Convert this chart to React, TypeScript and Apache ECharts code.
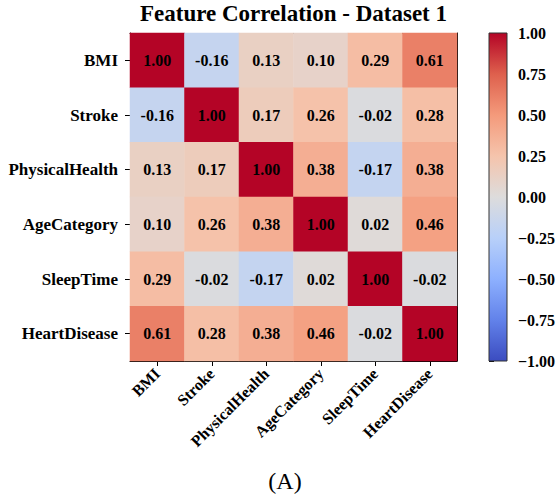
import React, { useEffect, useRef } from "react";
import * as echarts from "echarts";

const features = ["BMI", "Stroke", "PhysicalHealth", "AgeCategory", "SleepTime", "HeartDisease"];
const rowBMI = [1.0, -0.16, 0.13, 0.1, 0.29, 0.61];
const rowStroke = [-0.16, 1.0, 0.17, 0.26, -0.02, 0.28];
const rowPhysicalHealth = [0.13, 0.17, 1.0, 0.38, -0.17, 0.38];
const rowAgeCategory = [0.1, 0.26, 0.38, 1.0, 0.02, 0.46];
const rowSleepTime = [0.29, -0.02, -0.17, 0.02, 1.0, -0.02];
const rowHeartDisease = [0.61, 0.28, 0.38, 0.46, -0.02, 1.0];
const matrix = [rowBMI, rowStroke, rowPhysicalHealth, rowAgeCategory, rowSleepTime, rowHeartDisease];
const coolwarm = ["#3b4cc0", "#6282ea", "#8db0fe", "#b8d0f9", "#dddcdc", "#f5c4ac", "#f49a7b", "#de604d", "#b40426"];
const cbMin = -1;
const cbMax = 1;
const cbStep = 0.25;

const FONT = "'Liberation Serif', 'DejaVu Serif', serif";

export default function App() {
  const ref = useRef<HTMLDivElement>(null);
  useEffect(() => {
    if (!ref.current) return;
    document.body.style.margin = "0";
    const chart = echarts.init(ref.current, undefined, { renderer: "svg" });
    const data: [number, number, number][] = [];
    matrix.forEach((row, r) => row.forEach((v, c) => data.push([c, r, v])));
    const gL = 130, gT = 33, gW = 327, gH = 328;
    const cbL = 489, cbW = 18;
    const n = coolwarm.length;
    const stops = coolwarm
      .slice()
      .reverse()
      .map((c, i) => ({ offset: i / (n - 1), color: c }));
    chart.setOption({
      animation: false,
      backgroundColor: "#fff",
      title: [
        {
          text: "Feature Correlation - Dataset 1",
          left: gL + gW / 2,
          textAlign: "center",
          top: 2,
          padding: 0,
          textStyle: { fontFamily: FONT, fontWeight: "bold", fontSize: 23, color: "#000" },
        },
        {
          text: "(A)",
          left: 285,
          textAlign: "center",
          top: 469,
          padding: 0,
          textStyle: { fontFamily: FONT, fontWeight: "normal", fontSize: 24, color: "#000" },
        },
      ],
      grid: [
        { left: gL, top: gT, width: gW, height: gH, containLabel: false },
        { left: cbL, top: gT, width: cbW, height: gH, containLabel: false },
      ],
      xAxis: [
        {
          type: "category",
          data: features,
          gridIndex: 0,
          position: "bottom",
          axisLine: { show: true, lineStyle: { color: "#000", width: 1 } },
          axisTick: { show: true, alignWithLabel: true, length: 5, lineStyle: { color: "#000" } },
          axisLabel: { rotate: 45, fontFamily: FONT, fontWeight: "bold", fontSize: 16, color: "#000", margin: 10 },
          splitLine: { show: false },
        },
        {
          type: "value",
          gridIndex: 0,
          position: "top",
          axisLine: { show: true, onZero: false, lineStyle: { color: "#000", width: 1 } },
          axisTick: { show: false },
          axisLabel: { show: false },
          splitLine: { show: false },
        },
        {
          type: "value",
          gridIndex: 1,
          show: false,
          min: 0,
          max: 1,
        },
      ],
      yAxis: [
        {
          type: "category",
          data: features,
          inverse: true,
          gridIndex: 0,
          axisLine: { show: true, lineStyle: { color: "#000", width: 1 } },
          axisTick: { show: true, alignWithLabel: true, length: 5, lineStyle: { color: "#000" } },
          axisLabel: { fontFamily: FONT, fontWeight: "bold", fontSize: 17, color: "#000", margin: 12 },
          splitLine: { show: false },
        },
        {
          type: "value",
          gridIndex: 0,
          position: "right",
          axisLine: { show: true, onZero: false, lineStyle: { color: "#000", width: 1 } },
          axisTick: { show: false },
          axisLabel: { show: false },
          splitLine: { show: false },
        },
        {
          type: "value",
          gridIndex: 1,
          position: "right",
          min: cbMin,
          max: cbMax,
          interval: cbStep,
          axisLine: { show: false },
          axisTick: { show: true, length: 5, lineStyle: { color: "#000" } },
          axisLabel: {
            fontFamily: FONT,
            fontWeight: "bold",
            fontSize: 16,
            color: "#000",
            margin: 11,
            formatter: (v: number) => v.toFixed(2).replace("-", "\u2212"),
          },
          splitLine: { show: false },
        },
      ],
      visualMap: {
        type: "continuous",
        show: false,
        min: cbMin,
        max: cbMax,
        seriesIndex: 0,
        inRange: { color: coolwarm },
      },
      graphic: [
        {
          type: "rect",
          x: cbL,
          y: gT,
          z: 100,
          shape: { x: 0, y: 0, width: cbW, height: gH },
          style: {
            fill: new echarts.graphic.LinearGradient(0, 0, 0, 1, stops),
            stroke: "#333",
            lineWidth: 1,
          },
          silent: true,
        },
      ],
      series: [
        {
          type: "heatmap",
          xAxisIndex: 0,
          yAxisIndex: 0,
          data,
          label: {
            show: true,
            fontFamily: FONT,
            fontWeight: "bold",
            fontSize: 16,
            color: "#000",
            formatter: (p: any) => (p.value[2] as number).toFixed(2),
          },
          itemStyle: { borderWidth: 0 },
        },
      ],
    });
    return () => chart.dispose();
  }, []);
  return <div ref={ref} style={{ width: 560, height: 500 }} />;
}
